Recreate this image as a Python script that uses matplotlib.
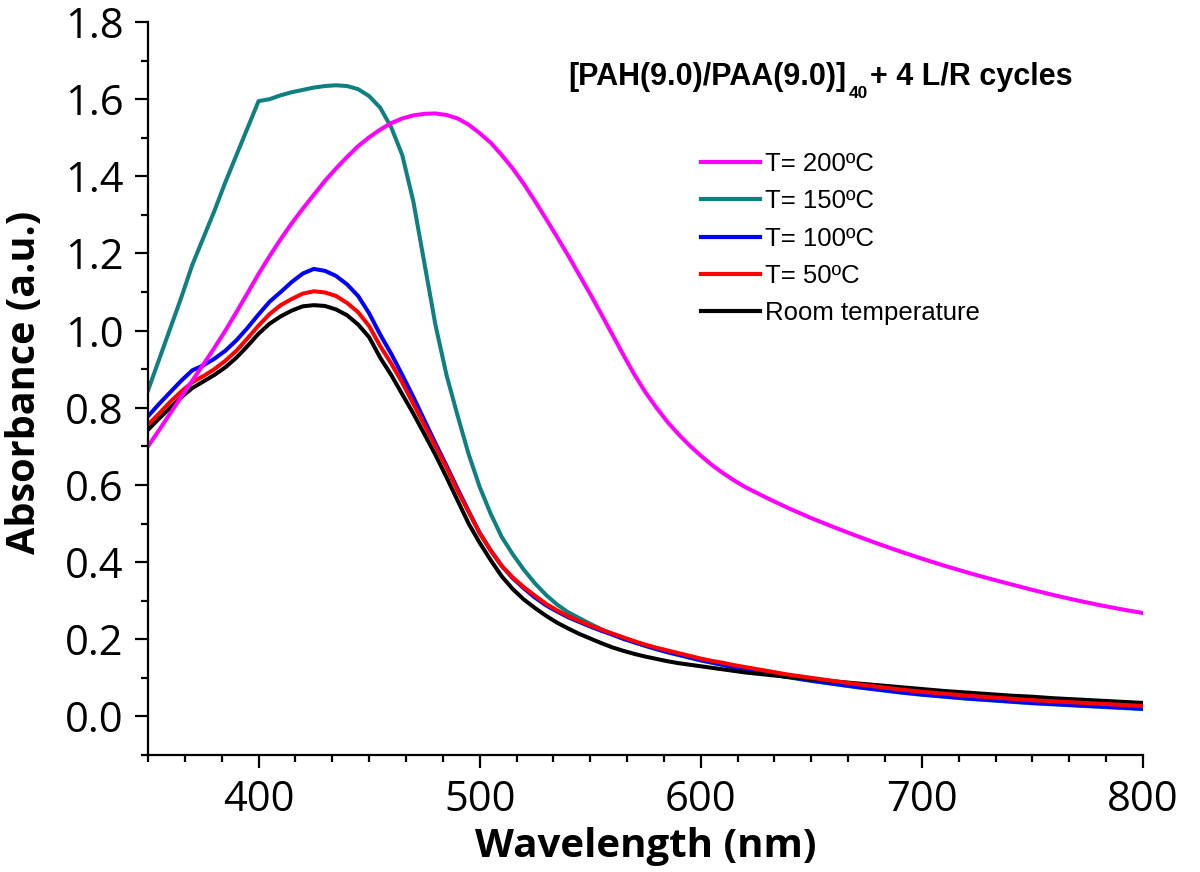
import matplotlib
matplotlib.use("Agg")
import matplotlib.pyplot as plt
from matplotlib.ticker import MultipleLocator, AutoMinorLocator, FormatStrFormatter
from matplotlib.lines import Line2D

wavelength = [350, 355, 360, 365, 370, 375, 380, 385, 390, 395, 400, 405, 410, 415, 420, 425,
              430, 435, 440, 445, 450, 455, 460, 465, 470, 475, 480, 485, 490, 495, 500, 505,
              510, 515, 520, 525, 530, 535, 540, 545, 550, 555, 560, 565, 570, 575, 580, 585,
              590, 595, 600, 605, 610, 615, 620, 630, 640, 650, 660, 670, 680, 690, 700, 710,
              720, 730, 740, 750, 760, 770, 780, 790, 800]

abs_200 = [0.700, 0.742, 0.785, 0.828, 0.870, 0.912, 0.955, 1.000, 1.048, 1.097, 1.147, 1.193,
           1.237, 1.278, 1.316, 1.352, 1.388, 1.420, 1.450, 1.478, 1.501, 1.521, 1.538, 1.550,
           1.558, 1.562, 1.563, 1.559, 1.550, 1.534, 1.512, 1.487, 1.455, 1.420, 1.380, 1.336,
           1.290, 1.243, 1.195, 1.145, 1.095, 1.043, 0.990, 0.937, 0.886, 0.840, 0.800, 0.763,
           0.731, 0.702, 0.676, 0.652, 0.631, 0.612, 0.595, 0.566, 0.539, 0.514, 0.491, 0.469,
           0.448, 0.428, 0.409, 0.391, 0.374, 0.358, 0.343, 0.328, 0.314, 0.301, 0.289, 0.278,
           0.268]

abs_150 = [0.845, 0.925, 1.005, 1.085, 1.170, 1.240, 1.310, 1.385, 1.455, 1.525, 1.595, 1.600,
           1.610, 1.618, 1.624, 1.630, 1.634, 1.636, 1.634, 1.626, 1.608, 1.578, 1.527, 1.455,
           1.335, 1.175, 1.015, 0.885, 0.780, 0.680, 0.595, 0.525, 0.465, 0.420, 0.380, 0.345,
           0.315, 0.290, 0.270, 0.255, 0.240, 0.226, 0.213, 0.202, 0.192, 0.183, 0.174, 0.166,
           0.159, 0.152, 0.145, 0.139, 0.133, 0.127, 0.121, 0.111, 0.101, 0.092, 0.084, 0.076,
           0.069, 0.062, 0.056, 0.051, 0.046, 0.042, 0.038, 0.034, 0.031, 0.028, 0.025, 0.022,
           0.019]

abs_100 = [0.778, 0.810, 0.840, 0.870, 0.897, 0.910, 0.927, 0.948, 0.975, 1.007, 1.042, 1.075,
           1.100, 1.126, 1.148, 1.160, 1.155, 1.142, 1.120, 1.090, 1.045, 0.990, 0.940, 0.885,
           0.828, 0.768, 0.708, 0.650, 0.590, 0.532, 0.476, 0.430, 0.390, 0.358, 0.332, 0.308,
           0.288, 0.272, 0.257, 0.245, 0.233, 0.222, 0.212, 0.201, 0.192, 0.183, 0.175, 0.167,
           0.160, 0.153, 0.146, 0.140, 0.134, 0.128, 0.122, 0.112, 0.102, 0.093, 0.085, 0.077,
           0.070, 0.063, 0.057, 0.052, 0.047, 0.043, 0.039, 0.035, 0.032, 0.029, 0.026, 0.023,
           0.020]

abs_50 = [0.756, 0.785, 0.815, 0.842, 0.866, 0.882, 0.900, 0.922, 0.948, 0.980, 1.013, 1.043,
          1.066, 1.082, 1.096, 1.102, 1.099, 1.090, 1.072, 1.048, 1.012, 0.960, 0.915, 0.865,
          0.810, 0.755, 0.700, 0.645, 0.585, 0.530, 0.475, 0.430, 0.390, 0.360, 0.335, 0.313,
          0.292, 0.275, 0.260, 0.248, 0.236, 0.225, 0.215, 0.205, 0.195, 0.186, 0.178, 0.171,
          0.164, 0.157, 0.150, 0.144, 0.139, 0.133, 0.128, 0.118, 0.108, 0.100, 0.092, 0.084,
          0.077, 0.070, 0.064, 0.059, 0.054, 0.050, 0.046, 0.042, 0.039, 0.036, 0.033, 0.030,
          0.027]

abs_rt = [0.743, 0.772, 0.800, 0.827, 0.851, 0.868, 0.885, 0.905, 0.930, 0.960, 0.992, 1.018,
          1.037, 1.052, 1.063, 1.066, 1.064, 1.055, 1.040, 1.016, 0.983, 0.930, 0.885, 0.835,
          0.785, 0.732, 0.678, 0.620, 0.560, 0.500, 0.450, 0.405, 0.363, 0.330, 0.303, 0.281,
          0.261, 0.243, 0.228, 0.214, 0.202, 0.190, 0.179, 0.170, 0.162, 0.155, 0.149, 0.143,
          0.138, 0.134, 0.130, 0.126, 0.122, 0.118, 0.114, 0.108, 0.102, 0.097, 0.091, 0.086,
          0.081, 0.076, 0.071, 0.066, 0.062, 0.058, 0.054, 0.051, 0.047, 0.044, 0.041, 0.038,
          0.035]

labels = ["T= 200ºC", "T= 150ºC", "T= 100ºC", "T= 50ºC", "Room temperature"]
colors = ["#FF00FF", "#0E8080", "#0000FF", "#FF0000", "#000000"]
series = [abs_200, abs_150, abs_100, abs_50, abs_rt]
draw_order = [1, 2, 4, 3, 0]

W, H = 1200, 872
fig = plt.figure(figsize=(12, 8.72), dpi=100)
ax = fig.add_axes([148 / W, 1 - 755 / H, (1143 - 148) / W, (755 - 22) / H])

lw = 2.9
for i in draw_order:
    ax.plot(wavelength, series[i], color=colors[i], lw=lw, solid_joinstyle="round")

ax.set_xlim(350, 800)
ax.set_ylim(-0.1, 1.8)
ax.xaxis.set_major_locator(MultipleLocator(100))
ax.xaxis.set_minor_locator(AutoMinorLocator(6))
ax.yaxis.set_minor_locator(MultipleLocator(0.1))
ax.set_yticks([0.0, 0.2, 0.4, 0.6, 0.8, 1.0, 1.2, 1.4, 1.6, 1.8])
ax.yaxis.set_major_formatter(FormatStrFormatter("%.1f"))

for s in ["top", "right"]:
    ax.spines[s].set_visible(False)
for s in ["left", "bottom"]:
    ax.spines[s].set_linewidth(1.6)

ax.tick_params(which="major", direction="out", length=9.5, width=1.6, labelsize=30, pad=8)
ax.tick_params(which="minor", direction="out", length=5, width=1.6)
for lab in ax.get_xticklabels() + ax.get_yticklabels():
    lab.set_fontfamily("Open Sans")

ax.set_xlabel("Wavelength (nm)", fontsize=29, fontweight="bold", family="Open Sans", labelpad=4)
ax.set_ylabel("Absorbance (a.u.)", fontsize=28.5, fontweight="bold", family="Open Sans", labelpad=15)

handles = [Line2D([], [], color=c, lw=3) for c in colors]
leg = fig.legend(handles, labels, loc="upper left", bbox_to_anchor=(701 / W, 1 - 152 / H),
                 frameon=False, borderpad=0, borderaxespad=0, handlelength=2.3,
                 handletextpad=0.2, labelspacing=0.52,
                 prop={"family": "Liberation Sans", "size": 18.5})

# title with subscript, placed piece by piece
tfont = dict(family="Liberation Sans", fontweight="bold")
fig.canvas.draw()
renderer = fig.canvas.get_renderer()
t1 = fig.text(568 / W, 1 - 85 / H, "[PAH(9.0)/PAA(9.0)]", fontsize=22, va="baseline", ha="left", **tfont)
x1 = t1.get_window_extent(renderer).x1
t2 = fig.text((x1 + 3) / W, 1 - 98 / H, "40", fontsize=12.5, va="baseline", ha="left", **tfont)
x2 = t2.get_window_extent(renderer).x1
t3 = fig.text((x2 + 2) / W, 1 - 85 / H, "+ 4 L/R cycles", fontsize=22, va="baseline", ha="left", **tfont)

# nudge y label up slightly to match reference centring
lx_disp = ax.yaxis.label.get_position()[0]
lx_axes = ax.transAxes.inverted().transform((lx_disp, 0))[0]
ax.yaxis.set_label_coords(lx_axes, 0.508)

fig.savefig("out.png", dpi=100)
